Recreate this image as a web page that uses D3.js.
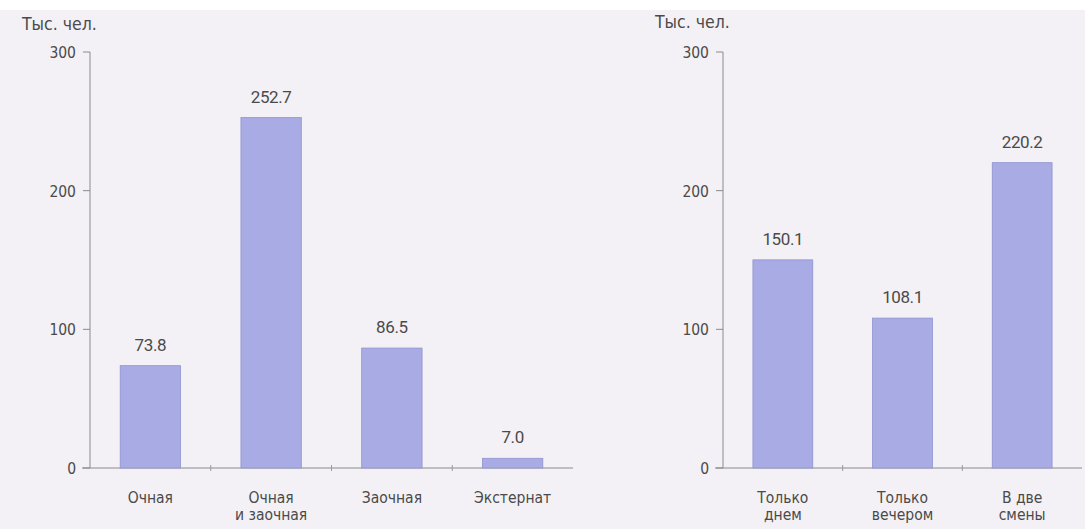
<!DOCTYPE html>
<html><head><meta charset="utf-8">
<script src="https://cdn.jsdelivr.net/npm/d3@7"></script>
<style>
html,body{margin:0;padding:0;background:#f3f1f5;}
svg{display:block;}
text{font-family:"DejaVu Sans Condensed","Liberation Sans Narrow",sans-serif;fill:#4a4a4a;}
text.num{font-family:"Roboto",sans-serif;letter-spacing:-0.4px;}
</style></head>
<body>
<svg id="c" width="1085" height="529"></svg>
<script>
const leftCategories = [["Очная"],["Очная","и заочная"],["Заочная"],["Экстернат"]];
const leftValues = [73.8, 252.7, 86.5, 7.0];
const rightCategories = [["Только","днем"],["Только","вечером"],["В две","смены"]];
const rightValues = [150.1, 108.1, 220.2];
const yTicks = [0, 100, 200, 300];
const unitLabel = "Тыс. чел.";

const svg = d3.select("#c");
svg.append("rect").attr("x",0).attr("y",0).attr("width",1085).attr("height",10).attr("fill","#ffffff");

function panel(cats, vals, x0, x1, unitX, unitY){
  const y = d3.scaleLinear().domain([0,300]).range([468,52]);
  const x = d3.scaleBand().domain(cats.map((d,i)=>i)).range([x0,x1]).padding(0.5).paddingOuter(0.25);
  const g = svg.append("g");
  g.append("text").attr("x",unitX).attr("y",unitY).attr("font-size",17.5).text(unitLabel);
  g.append("line").attr("x1",x0).attr("x2",x0).attr("y1",y(300)).attr("y2",y(0)).attr("stroke","#8a8a8a").attr("stroke-width",1);
  yTicks.forEach(t=>{
    g.append("line").attr("x1",x0-7).attr("x2",x0).attr("y1",y(t)).attr("y2",y(t)).attr("stroke","#8a8a8a");
    g.append("text").attr("x",x0-14).attr("y",y(t)+6).attr("text-anchor","end").attr("font-size",15.5).text(t);
  });
  g.append("line").attr("x1",x0-8).attr("x2",x1).attr("y1",y(0)).attr("y2",y(0)).attr("stroke","#8a8a8a");
  const step = x.step();
  for(let i=1;i<cats.length;i++){
    const bx = x(i) - (step - x.bandwidth())/2;
    g.append("line").attr("x1",bx).attr("x2",bx).attr("y1",y(0)-3).attr("y2",y(0)+3).attr("stroke","#9a9a9a");
  }
  g.selectAll("rect.bar").data(vals).enter().append("rect")
    .attr("x",(d,i)=>x(i)).attr("width",x.bandwidth())
    .attr("y",d=>y(d)).attr("height",d=>y(0)-y(d))
    .attr("fill","#a8abe4").attr("stroke","#9093cf").attr("stroke-width",0.8);
  g.selectAll("text.num").data(vals).enter().append("text").attr("class","num")
    .attr("x",(d,i)=>x(i)+x.bandwidth()/2).attr("y",d=>y(d)-15)
    .attr("text-anchor","middle").attr("font-size",17).text(d=>d.toFixed(1));
  cats.forEach((lines,i)=>{
    lines.forEach((ln,j)=>{
      g.append("text").attr("x",x(i)+x.bandwidth()/2).attr("y",503+j*17)
        .attr("text-anchor","middle").attr("font-size",15.5).text(ln);
    });
  });
}
panel(leftCategories, leftValues, 90, 573, 22, 30);
panel(rightCategories, rightValues, 723, 1082, 655, 28);
</script>
</body></html>
